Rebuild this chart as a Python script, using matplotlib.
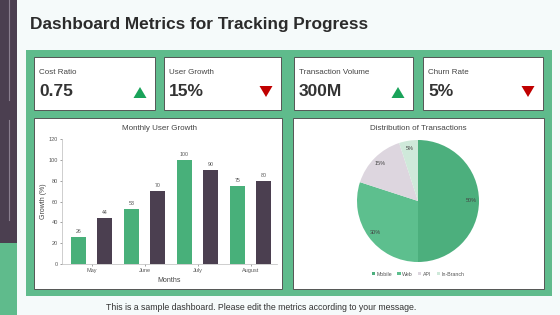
import matplotlib
matplotlib.use("Agg")
import matplotlib.pyplot as plt
from matplotlib.patches import Rectangle, Polygon

plt.rcParams['font.family'] = ['Liberation Sans', 'DejaVu Sans']

# ---- data ----
kpi_labels = ["Cost Ratio", "User Growth", "Transaction Volume", "Churn Rate"]
kpi_values = ["0.75", "15%", "300M", "5%"]
kpi_up = [True, False, True, False]

months = ["May", "June", "July", "August"]
series_a = [26, 53, 100, 75]
series_b = [44, 70, 90, 80]

pie_labels = ["Mobile", "Web", "API", "In-Branch"]
pie_values = [50, 30, 15, 5]

W, H = 560, 315
fig = plt.figure(figsize=(W / 100, H / 100), dpi=100)
fig.patch.set_facecolor("#f5fafa")

bg = fig.add_axes([0, 0, 1, 1])
bg.set_xlim(0, W)
bg.set_ylim(H, 0)
bg.axis("off")

PURPLE = "#4b3f50"
GREEN = "#5fbb8c"
BAR_GREEN = "#48b07a"
DARK = "#333333"

# sidebar
bg.add_patch(Rectangle((0, 0), 17, 243, color=PURPLE, lw=0))
bg.add_patch(Rectangle((0, 243), 17, 72, color=GREEN, lw=0))
bg.plot([8.7, 8.7], [0, 100], color="#8a7f8f", lw=0.8)
bg.plot([8.7, 8.7], [120, 220], color="#8a7f8f", lw=0.8)

# title
bg.text(30, 25, "Dashboard Metrics for Tracking Progress", fontsize=12.4,
        fontweight="bold", color="#2b2b2b", va="center", ha="left")

# green panel
bg.add_patch(Rectangle((26, 50), 526, 246, color=GREEN, lw=0))

# KPI cards
card_x = [(34, 155), (164, 281), (294, 413), (423, 543)]
for (x0, x1), lab, val, up in zip(card_x, kpi_labels, kpi_values, kpi_up):
    bg.add_patch(Rectangle((x0, 57), x1 - x0, 53, facecolor="white",
                           edgecolor="#555555", lw=0.7))
    bg.text(x0 + 5, 72, lab, fontsize=5.8, color="#444444", va="center")
    bg.text(x0 + 5, 92, val, fontsize=12.5, fontweight="bold", color=DARK, va="center")
    cx = x1 - 15
    if up:
        tri = [(cx - 6.5, 98), (cx + 6.5, 98), (cx, 87)]
        col = "#1aa35a"
    else:
        tri = [(cx - 6.5, 86), (cx + 6.5, 86), (cx, 97)]
        col = "#c00000"
    bg.add_patch(Polygon(tri, closed=True, color=col, lw=0))

# bottom cards
bg.add_patch(Rectangle((34, 118), 248, 171, facecolor="white", edgecolor="#555555", lw=0.7))
bg.add_patch(Rectangle((293, 118), 251, 171, facecolor="white", edgecolor="#555555", lw=0.7))

bg.text(159, 128, "Monthly User Growth", fontsize=5.8, color="#444444", ha="center", va="center")
bg.text(418, 128, "Distribution of Transactions", fontsize=5.8, color="#444444", ha="center", va="center")

# footer
bg.text(261, 307, "This is a sample dashboard. Please edit the metrics according to your message.",
        fontsize=6.3, color="#333333", ha="center", va="center")


def px_rect(x0, y0, x1, y1):
    return [x0 / W, 1 - y1 / H, (x1 - x0) / W, (y1 - y0) / H]


# bar chart
ax = fig.add_axes(px_rect(62, 139, 277, 264))
ax.set_facecolor("none")
xs = list(range(len(months)))
off, bw = 0.245, 0.28
ba = ax.bar([x - off for x in xs], series_a, width=bw, color=BAR_GREEN)
bb = ax.bar([x + off for x in xs], series_b, width=bw, color=PURPLE)
for bars, vals in ((ba, series_a), (bb, series_b)):
    for r, v in zip(bars, vals):
        ax.text(r.get_x() + r.get_width() / 2, v + 3, str(v), ha="center", va="bottom",
                fontsize=3.8, color="#555555")
ax.set_xlim(-0.557, 3.5)
ax.set_ylim(0, 120)
ax.set_yticks(range(0, 121, 20))
ax.set_xticks(xs)
ax.set_xticklabels(months)
ax.tick_params(labelsize=4, colors="#595959", length=1.5, width=0.4, pad=1.5)
for s in ("top", "right"):
    ax.spines[s].set_visible(False)
for s in ("left", "bottom"):
    ax.spines[s].set_color("#bbbbbb")
    ax.spines[s].set_linewidth(0.5)
ax.set_xlabel("Months", fontsize=5, color="#444444", labelpad=3)
ax.set_ylabel("Growth (%)", fontsize=5, color="#444444", labelpad=1)

# pie chart
pax = fig.add_axes(px_rect(357, 140, 479, 262))
pie_colors = ["#4caf7d", "#5dbf8e", "#ddd6df", "#cfe9da"]
wedges, texts, autotexts = pax.pie(pie_values, colors=pie_colors, startangle=90,
                                   counterclock=False, autopct="%d%%", pctdistance=0.87,
                                   radius=1.0, wedgeprops=dict(linewidth=0))
for t in autotexts:
    t.set_fontsize(4)
    t.set_color("#444444")
pax.set_xlim(-1, 1)
pax.set_ylim(-1, 1)
pax.set_aspect("equal")

leg = fig.legend(wedges, pie_labels, loc="center", bbox_to_anchor=(418 / W, 1 - 274 / H),
                 ncol=4, fontsize=3.8, frameon=False, handlelength=0.6, handleheight=0.6,
                 columnspacing=1.0, handletextpad=0.3)
for t in leg.get_texts():
    t.set_color("#555555")

fig.savefig("out.png", dpi=100, facecolor=fig.get_facecolor())
